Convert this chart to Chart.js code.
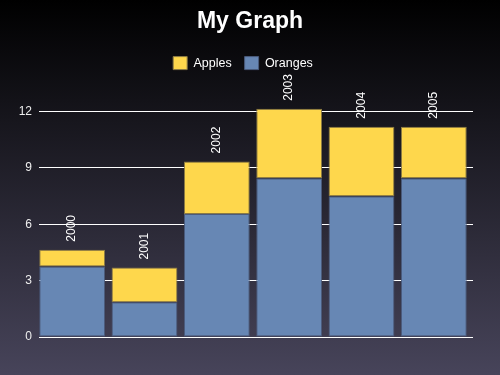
<!DOCTYPE html>
<html>
<head>
<meta charset="utf-8">
<script src="https://cdn.jsdelivr.net/npm/chart.js@4.4.0/dist/chart.umd.min.js"></script>
<style>
  html, body { margin: 0; padding: 0; background: #000; }
  #wrap { width: 500px; height: 375px; }
</style>
</head>
<body>
<div id="wrap"><canvas id="myChart" width="500" height="375"></canvas></div>
<script>
const years = ['2000', '2001', '2002', '2003', '2004', '2005'];
const oranges = [3.75, 1.85, 6.55, 8.45, 7.5, 8.45];
const apples = [0.9, 1.85, 2.8, 3.7, 3.7, 2.75];
const yTicks = [0, 3, 6, 9, 12];

// dark gradient behind everything
const bgPlugin = {
  id: 'bg',
  beforeDraw(chart) {
    const c = chart.ctx;
    const g = c.createLinearGradient(0, 0, 0, chart.height);
    g.addColorStop(0, '#000000');
    g.addColorStop(1, '#47445a');
    c.save();
    c.fillStyle = g;
    c.fillRect(0, 0, chart.width, chart.height);
    c.restore();
  }
};

// more room under the legend, and nudge it a bit left
const legendGap = {
  id: 'legendGap',
  beforeInit(chart) {
    const fit = chart.legend.fit;
    chart.legend.fit = function () {
      fit.bind(chart.legend)();
      this.height += 32;
    };
  },
  afterLayout(chart) {
    chart.legend.left -= 7;
    chart.legend.right -= 7;
  }
};

// bars sit flush with the left end of the grid, so shift them a little;
// the year goes sideways on top of each stack
const yearLabels = {
  id: 'yearLabels',
  beforeDatasetsDraw(chart) {
    chart.ctx.save();
    chart.ctx.translate(-3, 0);
  },
  afterDatasetsDraw(chart) {
    const c = chart.ctx;
    const meta = chart.getDatasetMeta(1);
    c.fillStyle = '#ffffff';
    c.font = '12px "Liberation Sans", Arial, sans-serif';
    c.textAlign = 'left';
    c.textBaseline = 'middle';
    meta.data.forEach((bar, i) => {
      c.save();
      c.translate(bar.x, bar.y - 8);
      c.rotate(-Math.PI / 2);
      c.fillText(years[i], 0, 0);
      c.restore();
    });
    c.restore();
  }
};

Chart.defaults.font.family = '"Liberation Sans", Arial, sans-serif';

new Chart(document.getElementById('myChart'), {
  type: 'bar',
  data: {
    labels: years,
    datasets: [{
      label: 'Oranges',
      data: oranges,
      backgroundColor: '#6787b4',
      borderColor: '#4b5b7c',
      borderWidth: 1,
      borderSkipped: false,
      clip: false
    }, {
      label: 'Apples',
      data: apples,
      backgroundColor: '#fed74c',
      borderColor: '#8a7a45',
      borderWidth: 1,
      borderSkipped: false,
      clip: false
    }]
  },
  options: {
    responsive: false,
    animation: false,
    layout: { padding: { top: 0, right: 0, bottom: 30, left: 0 } },
    datasets: { bar: { barPercentage: 0.91, categoryPercentage: 1 } },
    plugins: {
      title: {
        display: true,
        text: 'My Graph',
        color: '#ffffff',
        font: { size: 23, weight: 'bold' },
        padding: { top: 8, bottom: 8 }
      },
      legend: {
        reverse: true,
        labels: {
          color: '#ffffff',
          boxWidth: 14,
          boxHeight: 13,
          font: { size: 12.5 },
          padding: 13
        }
      },
      tooltip: { enabled: false }
    },
    scales: {
      x: {
        stacked: true,
        ticks: { display: false },
        grid: { display: false },
        border: { display: false }
      },
      y: {
        stacked: true,
        min: 0,
        max: 12,
        afterBuildTicks(scale) { scale.ticks = yTicks.map(v => ({ value: v })); },
        afterFit(scale) { scale.width = 39; },
        ticks: { color: '#eeeeee', font: { size: 12 }, padding: 7 },
        grid: { color: '#ffffff', lineWidth: 1, drawTicks: false },
        border: { display: false }
      },
      right: {
        position: 'right',
        afterFit(scale) { scale.width = 27; },
        ticks: { display: false },
        grid: { display: false },
        border: { display: false }
      }
    }
  },
  plugins: [bgPlugin, legendGap, yearLabels]
});
</script>
</body>
</html>
